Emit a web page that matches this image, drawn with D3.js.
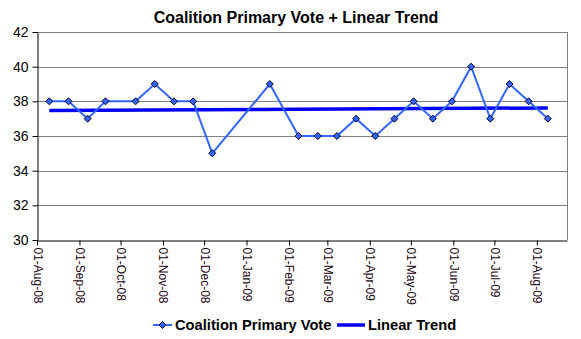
<!DOCTYPE html>
<html>
<head>
<meta charset="utf-8">
<script src="https://cdn.jsdelivr.net/npm/d3@7/dist/d3.min.js"></script>
<style>
html,body{margin:0;padding:0;background:#fff;}
svg{display:block;font-family:"Liberation Sans",Arial,sans-serif;}
</style>
</head>
<body>
<svg id="chart" width="581" height="339"></svg>
<script>
const pollDates = ["2008-08-10","2008-08-24","2008-09-07","2008-09-20","2008-10-12","2008-10-26","2008-11-09","2008-11-23","2008-12-07","2009-01-18","2009-02-08","2009-02-22","2009-03-08","2009-03-22","2009-04-05","2009-04-19","2009-05-03","2009-05-17","2009-05-31","2009-06-14","2009-06-28","2009-07-12","2009-07-26","2009-08-09"];
const primaryVote = [38,38,37,38,38,39,38,38,35,39,36,36,36,37,36,37,38,37,38,40,37,39,38,37];
const trendDates = ["2008-08-10","2009-08-09"];
const trendValues = [37.47,37.62];
const yTicks = [30,32,34,36,38,40,42];
const xTickDates = ["2008-08-01","2008-09-01","2008-10-01","2008-11-01","2008-12-01","2009-01-01","2009-02-01","2009-03-01","2009-04-01","2009-05-01","2009-06-01","2009-07-01","2009-08-01"];
const seriesNames = ["Coalition Primary Vote","Linear Trend"];
const title = "Coalition Primary Vote + Linear Trend";

const parse = d3.utcParse("%Y-%m-%d");
const fmt = d3.utcFormat("%d-%b-%y");
const svg = d3.select("#chart");
const L=37,R=567,T=32,B=240;
const x = d3.scaleUtc().domain([parse("2008-08-01"), parse("2009-08-23")]).range([L,R]);
const y = d3.scaleLinear().domain([30,42]).range([B,T]);

// gridlines
svg.append("g").selectAll("line").data(yTicks.filter(v=>v>30)).join("line")
  .attr("x1",L).attr("x2",R)
  .attr("y1",d=>Math.round(y(d))+0.5).attr("y2",d=>Math.round(y(d))+0.5)
  .attr("stroke","#808080").attr("stroke-width",1);
// right border
svg.append("line").attr("x1",R+0.5).attr("x2",R+0.5).attr("y1",T).attr("y2",B)
  .attr("stroke","#808080");

// y axis
const yAxis = svg.append("g").attr("transform",`translate(${L+0.5},0)`)
  .call(d3.axisLeft(y).tickValues(yTicks).tickSize(5).tickPadding(4).tickSizeOuter(0));
yAxis.select(".domain").attr("stroke","#000");
yAxis.selectAll("text").attr("font-size","14px").attr("fill","#000")
  .attr("font-family","Liberation Sans, Arial, sans-serif");

// x axis
const xAxis = svg.append("g").attr("transform",`translate(0,${B+0.5})`)
  .call(d3.axisBottom(x).tickValues(xTickDates.map(parse)).tickFormat(fmt).tickSize(5).tickSizeOuter(0));
xAxis.select(".domain").attr("stroke","#000");
xAxis.selectAll("text")
  .attr("font-size","12px").attr("fill","#1a0010")
  .attr("font-family","Liberation Sans, Arial, sans-serif")
  .attr("text-anchor","start").attr("dy",null)
  .attr("transform","rotate(90)").attr("x",7).attr("y",0).attr("dominant-baseline","central");

// trend line
svg.append("path")
  .datum(trendDates.map((d,i)=>({d:parse(d),v:trendValues[i]})))
  .attr("d",d3.line().x(p=>x(p.d)).y(p=>y(p.v)))
  .attr("fill","none").attr("stroke","#0000FF").attr("stroke-width",3.5);

// data line
const pts = pollDates.map((d,i)=>({d:parse(d),v:primaryVote[i]}));
svg.append("path").datum(pts)
  .attr("d",d3.line().x(p=>x(p.d)).y(p=>y(p.v)))
  .attr("fill","none").attr("stroke","#3366FF").attr("stroke-width",2);
const diamond = "M0,-3.5L3.5,0L0,3.5L-3.5,0Z";
svg.append("g").selectAll("path").data(pts).join("path")
  .attr("d",diamond)
  .attr("transform",p=>`translate(${x(p.d)},${y(p.v)})`)
  .attr("fill","#3366FF").attr("stroke","#000020").attr("stroke-width",1);

// title
svg.append("text").attr("x",296).attr("y",23).attr("text-anchor","middle")
  .attr("font-size","16px").attr("font-weight","bold").attr("fill","#000")
  .text(title);

// legend
const ly = 325;
const lg = svg.append("g");
lg.append("line").attr("x1",153).attr("x2",172).attr("y1",ly).attr("y2",ly)
  .attr("stroke","#3366FF").attr("stroke-width",2);
lg.append("path").attr("d",diamond).attr("transform",`translate(162.5,${ly})`)
  .attr("fill","#3366FF").attr("stroke","#000020");
lg.append("text").attr("x",175).attr("y",ly).attr("dominant-baseline","central")
  .attr("font-size","14.7px").attr("font-weight","bold").text(seriesNames[0]);
lg.append("line").attr("x1",337).attr("x2",365).attr("y1",ly).attr("y2",ly)
  .attr("stroke","#0000FF").attr("stroke-width",3.5);
lg.append("text").attr("x",368).attr("y",ly).attr("dominant-baseline","central")
  .attr("font-size","14.7px").attr("font-weight","bold").text(seriesNames[1]);
</script>
</body>
</html>
